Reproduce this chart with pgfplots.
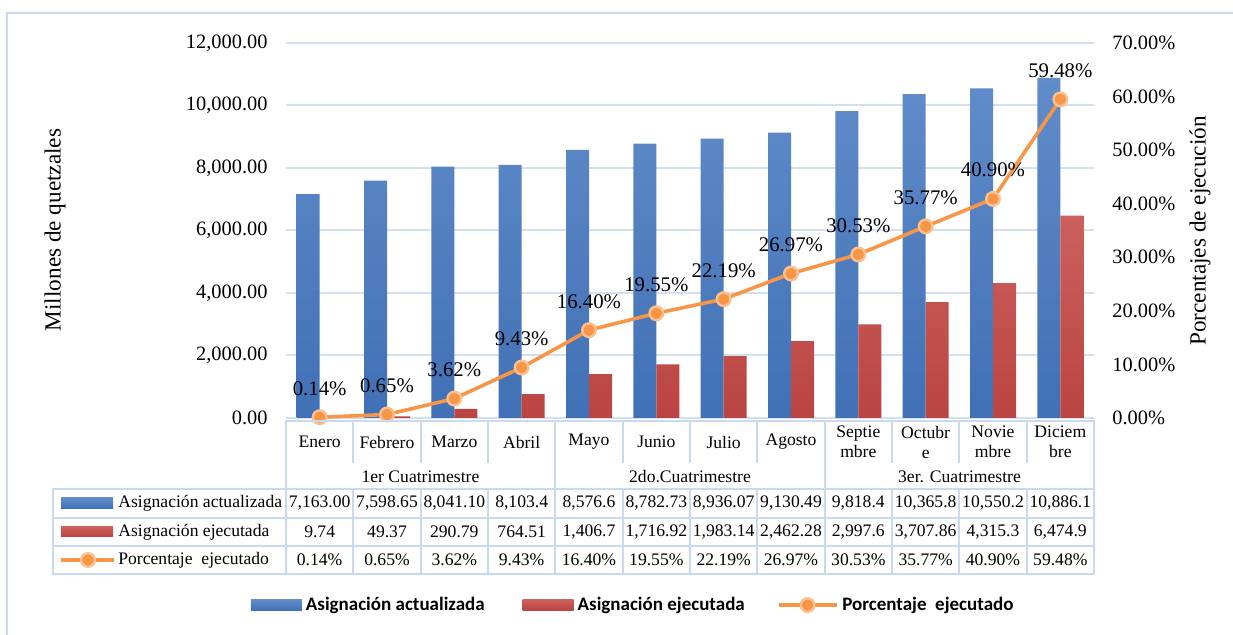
\documentclass[border=0pt]{standalone}
\usepackage{pgfplots}
\pgfplotsset{compat=1.18}
\usepackage{pgfplotstable}
\usepackage{fontspec}
\setmainfont{Liberation Serif}
\newfontfamily\calibri{Carlito}

\definecolor{barbluetop}{HTML}{618CCA}
\definecolor{barbluebot}{HTML}{4070B5}
\definecolor{barredtop}{HTML}{CC605D}
\definecolor{barredbot}{HTML}{BA4441}
\definecolor{lineorange}{HTML}{F79646}
\definecolor{markring}{HTML}{FBC08F}
\definecolor{gridc}{HTML}{D3E0F1}
\definecolor{tabc}{HTML}{C9DAF0}

\pgfplotstableread{
i act eje pct
0 7163.00 9.74 0.14
1 7598.65 49.37 0.65
2 8041.10 290.79 3.62
3 8103.4 764.51 9.43
4 8576.6 1406.7 16.40
5 8782.73 1716.92 19.55
6 8936.07 1983.14 22.19
7 9130.49 2462.28 26.97
8 9818.4 2997.6 30.53
9 10365.8 3707.86 35.77
10 10550.2 4315.3 40.90
11 10886.1 6474.9 59.48
}\data

\newcommand\tabfont{\fontsize{8.8}{10}\selectfont}
\newcommand\tickfont{\rmfamily\fontsize{10.2}{12}\selectfont}

\begin{document}
\begin{tikzpicture}[x=0.5pt,y=-0.5pt]
\useasboundingbox (0,0) rectangle (1233,635);
\draw[tabc, line width=1pt] (7,635) -- (7,13) -- (1233,13);

\begin{axis}[
  at={(143pt,-209pt)}, anchor=south west, scale only axis,
  width=404pt, height=187.5pt,
  xmin=-0.5, xmax=11.5, ymin=0, ymax=12000, ytick distance=2000,
  xtick=\empty, axis line style={draw=none}, major tick length=0pt,
  ymajorgrids, grid style={gridc, line width=1pt},
  /pgf/number format/assume math mode=true,
  yticklabel={\mbox{\tickfont\pgfmathprintnumber[fixed,fixed zerofill,precision=2,1000 sep={,},assume math mode=true]{\tick}}},
  yticklabel style={font=\tickfont, inner sep=0pt, xshift=-9pt},
  scaled y ticks=false,
  clip=false,
]
\addplot[ybar, bar width=11.5pt, bar shift=-5.75pt, draw=none,
  top color=barbluetop, bottom color=barbluebot] table[x=i,y=act]{\data};
\addplot[ybar, bar width=11.5pt, bar shift=5.75pt, draw=none,
  top color=barredtop, bottom color=barredbot] table[x=i,y=eje]{\data};
\end{axis}

\begin{axis}[
  at={(143pt,-209pt)}, anchor=south west, scale only axis,
  width=404pt, height=187.5pt,
  xmin=-0.5, xmax=11.5, ymin=0, ymax=70, ytick distance=10,
  xtick=\empty, axis line style={draw=none}, major tick length=0pt,
  yticklabel pos=right,
  /pgf/number format/assume math mode=true,
  yticklabel={\mbox{\tickfont\pgfmathprintnumber[fixed,fixed zerofill,precision=2,assume math mode=true]{\tick}\%}},
  yticklabel style={font=\tickfont, inner sep=0pt, xshift=9pt},
  clip=false,
  legend columns=3,
  legend style={at={(0.431,-0.499)}, anchor=center, draw=none, fill=none,
    font=\calibri\bfseries\fontsize{9.5}{11}\selectfont,
    /tikz/column 2/.style={column sep=17pt},
    /tikz/column 4/.style={column sep=14pt}},
]
\addlegendimage{draw=none, legend image code/.code={\shade[draw=none, top color=barbluetop,bottom color=barbluebot] (0pt,-2.6pt) rectangle (25.5pt,2.6pt);}}
\addlegendentry{Asignación actualizada}
\addlegendimage{draw=none, legend image code/.code={\shade[draw=none, top color=barredtop,bottom color=barredbot] (0pt,-2.6pt) rectangle (25.5pt,2.6pt);}}
\addlegendentry{Asignación ejecutada}
\addlegendimage{legend image code/.code={\draw[lineorange, line width=1.8pt] (0pt,0pt) -- (29pt,0pt); \filldraw[fill=lineorange, draw=markring, line width=1.2pt] (14.5pt,0pt) circle (3.4pt);}}
\addlegendentry{Porcentaje\ \ ejecutado}
\addplot[lineorange, line width=1.8pt, mark=*, forget plot,
  mark options={fill=lineorange, draw=markring, line width=1.2pt, mark size=3.4pt},
  nodes near coords={\pgfmathprintnumber[fixed,fixed zerofill,precision=2,assume math mode=true]{\pgfplotspointmeta}\%},
  nodes near coords style={anchor=base, yshift=11pt, text=black, font=\rmfamily\fontsize{10.4}{12}\selectfont},
] table[x=i,y=pct]{\data};
\end{axis}

% axis titles
\node[rotate=90, font=\fontsize{11.6}{13}\selectfont] at (55,230) {Millones de quetzales};
\node[rotate=90, font=\fontsize{11.6}{13}\selectfont] at (1200,231) {Porcentajes de ejecución};

% data table lines
\begin{scope}[tabc, line width=1pt]
\draw (286,421) rectangle (1094,489);
\foreach \k in {1,2,3,5,6,7,9,10,11} {\draw ({286+67.333*\k},421) -- ({286+67.333*\k},463);}
\foreach \k in {4,8} {\draw ({286+67.333*\k},421) -- ({286+67.333*\k},489);}
\draw (53,489) rectangle (1094,574);
\draw (53,518) -- (1094,518);
\draw (53,546) -- (1094,546);
\foreach \k in {0,...,11} {\draw ({286+67.333*\k},489) -- ({286+67.333*\k},574);}
\end{scope}

\begin{scope}[font=\tabfont]
\foreach \t [count=\k from 0] in {Enero,Febrero,Marzo,Abril,Mayo,Junio,Julio,Agosto,Septie\\mbre,Octubr\\e,Novie\\mbre,Diciem\\bre}
  {\node[align=center] at ({286+67.333*(\k+0.5)},442) {\t};}
\node at (420.5,477) {1er Cuatrimestre};
\node at (690,477) {2do.Cuatrimestre};
\node at (959.5,477) {3er. Cuatrimestre};
\foreach \t [count=\k from 0] in {{7,163.00},{7,598.65},{8,041.10},{8,103.4},{8,576.6},{8,782.73},{8,936.07},{9,130.49},{9,818.4},{10,365.8},{10,550.2},{10,886.1}}
  {\node at ({286+67.333*(\k+0.5)},503.5) {\t};}
\foreach \t [count=\k from 0] in {9.74,49.37,290.79,764.51,{1,406.7},{1,716.92},{1,983.14},{2,462.28},{2,997.6},{3,707.86},{4,315.3},{6,474.9}}
  {\node at ({286+67.333*(\k+0.5)},532) {\t};}
\foreach \t [count=\k from 0] in {0.14\%,0.65\%,3.62\%,9.43\%,16.40\%,19.55\%,22.19\%,26.97\%,30.53\%,35.77\%,40.90\%,59.48\%}
  {\node at ({286+67.333*(\k+0.5)},560) {\t};}
\node[anchor=west, inner sep=0pt] at (118,503.5) {Asignación actualizada};
\node[anchor=west, inner sep=0pt] at (118,532) {Asignación ejecutada};
\node[anchor=west, inner sep=0pt] at (118,560) {Porcentaje\ \ ejecutado};
\end{scope}
\shade[top color=barbluetop, bottom color=barbluebot] (61,498) rectangle (113,508.5);
\shade[top color=barredtop, bottom color=barredbot] (61,526.5) rectangle (113,537);
\draw[lineorange, line width=1.8pt] (61,560) -- (114,560);
\filldraw[fill=lineorange, draw=markring, line width=1.2pt] (88,560) circle (3.4pt);
\end{tikzpicture}
\end{document}
